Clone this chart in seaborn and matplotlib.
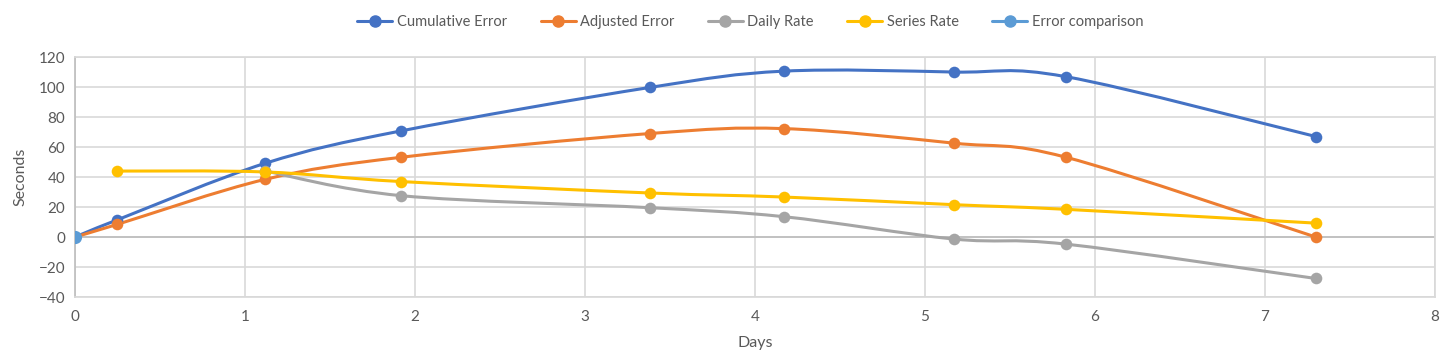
import matplotlib
matplotlib.use("Agg")
import matplotlib.pyplot as plt
from matplotlib.lines import Line2D
from matplotlib.path import Path
from matplotlib.patches import PathPatch
import numpy as np
import pandas as pd
import seaborn as sns

# values
days = [0.25, 1.12, 1.92, 3.38, 4.17, 5.17, 5.83, 7.30]
cumulative_error = [11.5, 49.2, 70.8, 99.7, 110.6, 110.0, 106.9, 67.0]
adjusted_error = [8.5, 38.5, 53.2, 69.0, 72.3, 62.6, 53.2, 0.0]
daily_rate = [np.nan, 44.0, 27.6, 19.6, 13.6, -1.3, -4.7, -27.6]
series_rate = [44.0, 43.4, 37.0, 29.4, 26.7, 21.6, 18.5, 9.3]
comparison_days = [0.0]
comparison_error = [0.0]

series_names = ["Cumulative Error", "Adjusted Error", "Daily Rate", "Series Rate"]
colors = ["#4472C4", "#ED7D31", "#A5A5A5", "#FFC000"]
comparison_name = "Error comparison"
comparison_color = "#5B9BD5"


def smooth_path(xs, ys):
    """Excel-like smoothed line: cubic Bezier segments through each point."""
    pts = np.column_stack([xs, ys]).astype(float)
    n = len(pts)
    verts = [pts[0]]
    codes = [Path.MOVETO]
    for i in range(n - 1):
        p0 = pts[i - 1] if i > 0 else pts[i]
        p1 = pts[i]
        p2 = pts[i + 1]
        p3 = pts[i + 2] if i + 2 < n else pts[i + 1]
        c1 = p1 + (p2 - p0) / 6.0
        c2 = p2 - (p3 - p1) / 6.0
        verts += [c1, c2, p2]
        codes += [Path.CURVE4] * 3
    return Path(verts, codes)


sns.set_theme(style="white")
plt.rcParams["font.family"] = ["Lato", "DejaVu Sans"]

fig = plt.figure(figsize=(14.4, 3.61), dpi=100)
ax = fig.add_axes([0.052, 0.177, 0.9445, 0.665])

frames = []
for name, vals in zip(series_names, [cumulative_error, adjusted_error, daily_rate, series_rate]):
    lead = [0.0] if name in ("Cumulative Error", "Adjusted Error") else []
    frames.append(pd.DataFrame({"Days": lead + days, "Seconds": lead + vals, "series": name}))
df = pd.concat(frames, ignore_index=True).dropna()

for name, color in zip(series_names, colors):
    sub = df[df["series"] == name]
    ax.add_patch(PathPatch(smooth_path(sub["Days"], sub["Seconds"]),
                           facecolor="none", edgecolor=color, lw=2.2, zorder=3))
    sub_pts = sub[sub["Days"] > 0]
    sns.scatterplot(data=sub_pts, x="Days", y="Seconds", color=color, s=70,
                    edgecolor=color, linewidth=0, ax=ax, zorder=4, legend=False)

sns.scatterplot(x=comparison_days, y=comparison_error, color=comparison_color, s=90,
                edgecolor=comparison_color, linewidth=0, ax=ax, zorder=5, legend=False)

ax.set_xlim(0, 8)
ax.set_ylim(-40, 120)
ax.set_xticks(range(0, 9))
ax.set_yticks(range(-40, 121, 20))
ax.grid(True, color="#D9D9D9", lw=1.2)
ax.axhline(0, color="#BFBFBF", lw=1.3, zorder=1)
for side in ["top", "right", "bottom"]:
    ax.spines[side].set_color("#D9D9D9")
ax.spines["left"].set_color("#BFBFBF")
ax.tick_params(axis="both", labelsize=11, colors="#595959", length=0)
ax.tick_params(axis="x", pad=9)
ax.tick_params(axis="y", pad=7)
ax.set_xlabel("Days", fontsize=11.5, color="#595959", labelpad=9)
ax.set_ylabel("Seconds", fontsize=11.5, color="#595959", labelpad=8)

handles = [Line2D([0], [0], color=c, lw=2.2, marker="o", markersize=8)
           for c in colors + [comparison_color]]
fig.legend(handles, series_names + [comparison_name], loc="center",
           bbox_to_anchor=(0.521, 0.94), ncol=5, frameon=False, fontsize=10.5,
           handlelength=2.4, handletextpad=0.3, columnspacing=2.3,
           labelcolor="#595959")

fig.savefig("out.png", dpi=100)
